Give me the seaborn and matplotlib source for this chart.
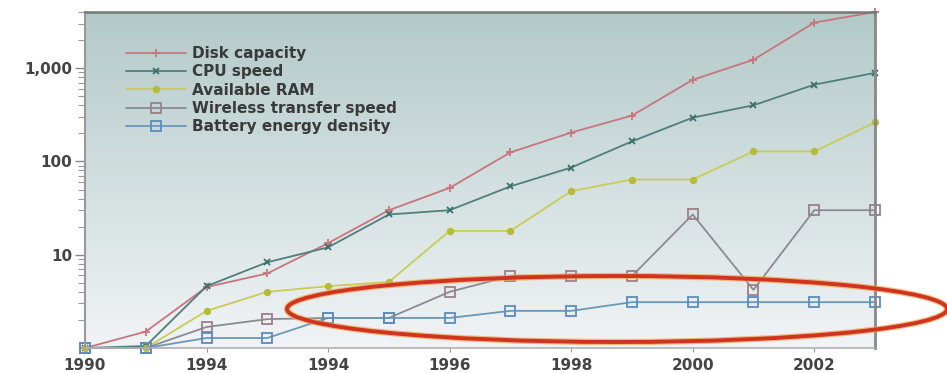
import matplotlib
matplotlib.use("Agg")
import matplotlib.pyplot as plt
from matplotlib.patches import Ellipse
from matplotlib.ticker import FixedLocator, LogLocator, NullFormatter
import seaborn as sns
import numpy as np
import pandas as pd

sns.set_style("white")
plt.rcParams['font.family'] = ['DejaVu Sans']

# -------------------- data --------------------
years = list(range(1990, 2004))
disk_capacity = [1, 1.5, 4.5, 6.3, 13.3, 30, 52, 125, 204, 310, 750, 1230, 3080, 4000]
cpu_speed = [1, 1.05, 4.6, 8.3, 12, 27, 30, 54, 86, 164, 295, 400, 665, 890]
available_ram = [1, 1, 2.5, 4.0, 4.6, 5.1, 18, 18, 48, 64, 64, 128, 128, 262]
wireless_speed = [1, 1, 1.68, 2.04, 2.1, 2.1, 4.0, 5.9, 5.9, 5.9, 27, 4.2, 30, 30]
battery_density = [1, 1, 1.28, 1.28, 2.1, 2.1, 2.1, 2.5, 2.5, 3.1, 3.1, 3.1, 3.1, 3.1]

xtick_pos = [1990, 1992, 1994, 1996, 1998, 2000, 2002]
xtick_labels = ['1990', '1994', '1994', '1996', '1998', '2000', '2002']
ytick_pos = [10, 100, 1000]
ytick_labels = ['10', '100', '1,000']

series = [
    ('Disk capacity', disk_capacity, '#c8757f', '+', '#c8757f', 6),
    ('CPU speed', cpu_speed, '#4f7f7c', 'x', '#3f6f6c', 4),
    ('Available RAM', available_ram, '#c9cc55', 'o', '#b7bb3a', 4),
    ('Wireless transfer speed', wireless_speed, '#8b8a92', 's', '#9a8088', 7),
    ('Battery energy density', battery_density, '#6e97b6', 's', '#5a8cc0', 7),
]

# -------------------- figure --------------------
fig = plt.figure(figsize=(9.47, 3.73), dpi=100)
rect = [85 / 947, 25 / 373, 790 / 947, 336 / 373]

# gradient background behind the plot
bg = fig.add_axes(rect, zorder=0)
grad = np.linspace(0, 1, 256).reshape(-1, 1)
top = np.array([0.70, 0.79, 0.785])
bot = np.array([0.945, 0.955, 0.965])
img = top[None, None, :] * (1 - grad[:, :, None]) + bot[None, None, :] * grad[:, :, None]
bg.imshow(img, aspect='auto', extent=[0, 1, 0, 1])
bg.set_axis_off()

ax = fig.add_axes(rect, zorder=1)
ax.set_facecolor('none')

for name, vals, col, mk, mcol, ms in series:
    filled = mk in ('o',)
    sns.lineplot(x=years, y=vals, ax=ax, color=col, lw=1.3, label=name,
                 marker=mk, markersize=ms, markeredgecolor=mcol,
                 markerfacecolor=(mcol if filled else 'none'),
                 markeredgewidth=1.3, clip_on=False)

ax.set_yscale('log')
ax.set_xlim(1990, 2003)
ax.set_ylim(1, 4000)

ax.set_xticks(xtick_pos)
ax.set_xticklabels(xtick_labels, fontsize=11, fontweight='bold', color='#444444')
ax.yaxis.set_major_locator(FixedLocator(ytick_pos))
ax.set_yticklabels(ytick_labels, fontsize=11, fontweight='bold', color='#444444')
ax.yaxis.set_minor_locator(LogLocator(base=10, subs=np.arange(2, 10)))
ax.yaxis.set_minor_formatter(NullFormatter())
ax.tick_params(axis='y', which='major', left=True, length=7, width=1, color='#888888', pad=2)
ax.tick_params(axis='y', which='minor', left=True, length=5, width=0.8, color='#999999')
ax.tick_params(axis='x', which='major', bottom=True, length=3, width=0.8, color='#999999', pad=4)
ax.set_xlabel('')
ax.set_ylabel('')

ax.spines['top'].set_color('#777777')
ax.spines['top'].set_linewidth(1.8)
ax.spines['right'].set_color('#888888')
ax.spines['right'].set_linewidth(2)
ax.spines['left'].set_color('#999999')
ax.spines['left'].set_linewidth(1.5)
ax.spines['bottom'].set_color('#b0b0b0')
ax.spines['bottom'].set_linewidth(1.2)

leg = ax.legend(loc='upper left', bbox_to_anchor=(0.035, 0.94), frameon=False,
                handlelength=3.9, handletextpad=0.4, labelspacing=0.22,
                prop={'weight': 'bold', 'size': 11})
for t in leg.get_texts():
    t.set_color('#3a3a3a')

# red highlight ellipse (annotation)
cx, cy = 617 / 947, 1 - 309 / 373
w, h = 660 / 947, 66 / 373
fig.patches.append(Ellipse((cx, cy), w, h, transform=fig.transFigure, fill=False,
                           edgecolor='#f2a24e', lw=4.5, alpha=0.7, zorder=5))
fig.patches.append(Ellipse((cx, cy), w, h, transform=fig.transFigure, fill=False,
                           edgecolor='#cf3420', lw=2.8, zorder=6))

fig.savefig('out.png', dpi=100)
